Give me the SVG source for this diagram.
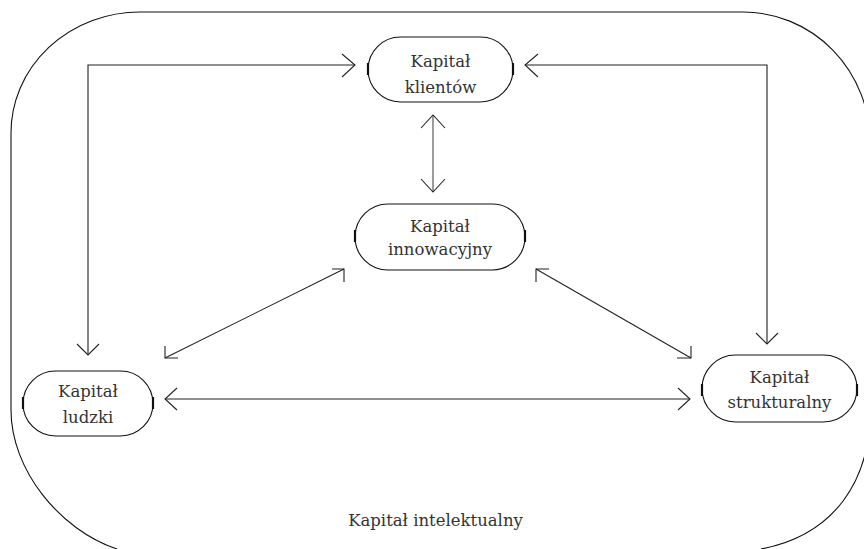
<svg xmlns="http://www.w3.org/2000/svg" width="864" height="549" viewBox="0 0 864 549">
  <style>
    .frame { fill: none; stroke: #111; stroke-width: 1.1; }
    .node { fill: #fff; stroke: #111; stroke-width: 1.1; }
    .tick { stroke: #111; stroke-width: 2.2; }
    .label { font-family: "DejaVu Serif", "Liberation Serif", serif; font-size: 16.5px; fill: #333; text-anchor: middle; }
    .link { fill: none; stroke: #222; stroke-width: 1.1; }
    .link.grey { stroke: #666; stroke-width: 1.3; }
    .head { fill: none; stroke: #222; stroke-width: 1.1; }
  </style>

  <!-- outer boundary: intellectual capital (runs off the lower edge) -->
  <path class="frame" d="M117,549 C60,530 11,470 11,410 V133 A129,121 0 0 1 140,12 H743 A127,130 0 0 1 870,142 V412 C870,480 835,535 761,549"/>
  <text class="label" x="435.5" y="526">Kapitał intelektualny</text>

  <!-- connectors -->
  <g id="connectors">
    <!-- ludzki <-> klientow (elbow) -->
    <polyline class="link" points="88,355 88,65 355,65"/>
    <polyline class="head" points="342,54 355,65 342,77"/>
    <polyline class="head" points="77,344 88,355 99,344"/>

    <!-- klientow <-> strukturalny (elbow) -->
    <polyline class="link" points="525,65 767,65 767,344"/>
    <polyline class="head" points="538,54 525,65 538,77"/>
    <polyline class="head" points="756,333 767,344 778,333"/>

    <!-- klientow <-> innowacyjny -->
    <line class="link grey" x1="433" y1="115" x2="433" y2="192"/>
    <polyline class="head" points="421,128 433,115 445,128"/>
    <polyline class="head" points="421,179 433,192 445,179"/>

    <!-- ludzki <-> innowacyjny -->
    <line class="link" x1="165" y1="358" x2="344" y2="269"/>
    <polyline class="head" points="332,269 344,269 344,282"/>
    <polyline class="head" points="165,346 165,358 178,358"/>

    <!-- innowacyjny <-> strukturalny -->
    <line class="link" x1="536" y1="269" x2="691" y2="358"/>
    <polyline class="head" points="549,269 536,269 536,282"/>
    <polyline class="head" points="691,346 691,358 677,358"/>

    <!-- ludzki <-> strukturalny -->
    <line class="link" x1="165" y1="399" x2="690" y2="399"/>
    <polyline class="head" points="177,388 165,399 177,410"/>
    <polyline class="head" points="678,388 690,399 678,410"/>
  </g>

  <!-- nodes -->
  <g id="node-klientow">
    <rect class="node" x="368" y="37" width="145" height="65" rx="32.5" ry="32.5"/>
    <line class="tick" x1="368" y1="63" x2="368" y2="75"/>
    <line class="tick" x1="513" y1="63" x2="513" y2="75"/>
    <text class="label" x="440.5" y="67">Kapitał</text>
    <text class="label" x="440.5" y="93">klientów</text>
  </g>

  <g id="node-innowacyjny">
    <rect class="node" x="355" y="204" width="170" height="66" rx="33" ry="33"/>
    <line class="tick" x1="355" y1="230" x2="355" y2="242"/>
    <line class="tick" x1="525" y1="230" x2="525" y2="242"/>
    <text class="label" x="440" y="232">Kapitał</text>
    <text class="label" x="440" y="255">innowacyjny</text>
  </g>

  <g id="node-ludzki">
    <rect class="node" x="23" y="371" width="130" height="65" rx="32.5" ry="32.5"/>
    <line class="tick" x1="23" y1="397" x2="23" y2="409"/>
    <line class="tick" x1="153" y1="397" x2="153" y2="409"/>
    <text class="label" x="88" y="397">Kapitał</text>
    <text class="label" x="88" y="423">ludzki</text>
  </g>

  <g id="node-strukturalny">
    <rect class="node" x="702" y="355" width="155" height="67" rx="33.5" ry="33.5"/>
    <line class="tick" x1="702" y1="384" x2="702" y2="396"/>
    <line class="tick" x1="857" y1="384" x2="857" y2="396"/>
    <text class="label" x="779.5" y="383">Kapitał</text>
    <text class="label" x="779.5" y="408">strukturalny</text>
  </g>
</svg>
